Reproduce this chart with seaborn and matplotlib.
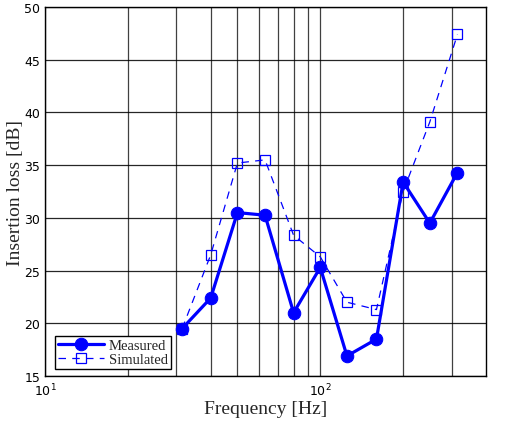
import numpy as np
import pandas as pd
import matplotlib
matplotlib.use("Agg")
import matplotlib.pyplot as plt
import seaborn as sns
from matplotlib.ticker import FixedLocator, NullFormatter

freq = [31.5, 40, 50, 63, 80, 100, 125, 160, 200, 250, 315]
measured = [19.5, 22.4, 30.5, 30.25, 21.0, 25.3, 16.9, 18.5, 33.4, 29.5, 34.3]
simulated = [19.5, 26.5, 35.2, 35.5, 28.35, 26.3, 22.0, 21.3, 32.5, 39.1, 47.4]
yticks = [15, 20, 25, 30, 35, 40, 45, 50]

sns.set_style("white")
plt.rcParams['font.family'] = ['DejaVu Sans']

fig = plt.figure(figsize=(5.09, 4.27), dpi=100)
ax = fig.add_axes([45/509, 50/427, (486-45)/509, (377-8)/427])

df_m = pd.DataFrame({"f": freq, "v": measured})
df_s = pd.DataFrame({"f": freq, "v": simulated})

sns.lineplot(data=df_s, x="f", y="v", ax=ax, color="#0000ff", lw=0.9,
             linestyle=(0, (6, 5)), marker="s", markersize=6.5,
             markerfacecolor="none", markeredgecolor="#0000ff", markeredgewidth=0.9,
             label="Simulated", zorder=3)
sns.lineplot(data=df_m, x="f", y="v", ax=ax, color="#0000ff", lw=2.3,
             marker="o", markersize=9, markeredgecolor="#0000ff",
             label="Measured", zorder=4)

ax.set_xscale("log")
ax.set_xlim(10, 400)
ax.set_ylim(15, 50)
ax.set_yticks(yticks)
ax.xaxis.set_major_locator(FixedLocator([10, 100]))
ax.xaxis.set_minor_locator(FixedLocator([20, 30, 40, 50, 60, 70, 80, 90, 200, 300]))
ax.xaxis.set_minor_formatter(NullFormatter())
ax.grid(True, which="both", axis="x", color="black", lw=0.9, alpha=0.75)
ax.grid(True, which="major", axis="y", color="black", lw=0.9, alpha=0.85)
ax.set_axisbelow(True)
for s in ax.spines.values():
    s.set_color("black")
    s.set_linewidth(1.0)
    s.set_visible(True)
ax.tick_params(axis="both", which="both", direction="in", labelsize=9, colors="black", length=4)
ax.tick_params(axis="x", pad=4)

ax.set_xlabel("Frequency [Hz]", family="Liberation Serif", fontsize=14, labelpad=1)
ax.set_ylabel("Insertion loss [dB]", family="Liberation Serif", fontsize=14)
ax.yaxis.set_label_coords(-0.047, 0.5)

h, l = ax.get_legend_handles_labels()
order = [l.index("Measured"), l.index("Simulated")]
leg = ax.legend([h[i] for i in order], [l[i] for i in order], loc="lower left",
                bbox_to_anchor=(0.022, 0.02), frameon=True, fancybox=False,
                edgecolor="black", framealpha=1, borderpad=0.2, labelspacing=0.05,
                handlelength=3.2, handletextpad=0.3, borderaxespad=0,
                prop={"family": "Liberation Serif", "size": 10.5})
leg.get_frame().set_linewidth(1.0)

fig.savefig("out.png", dpi=100)
